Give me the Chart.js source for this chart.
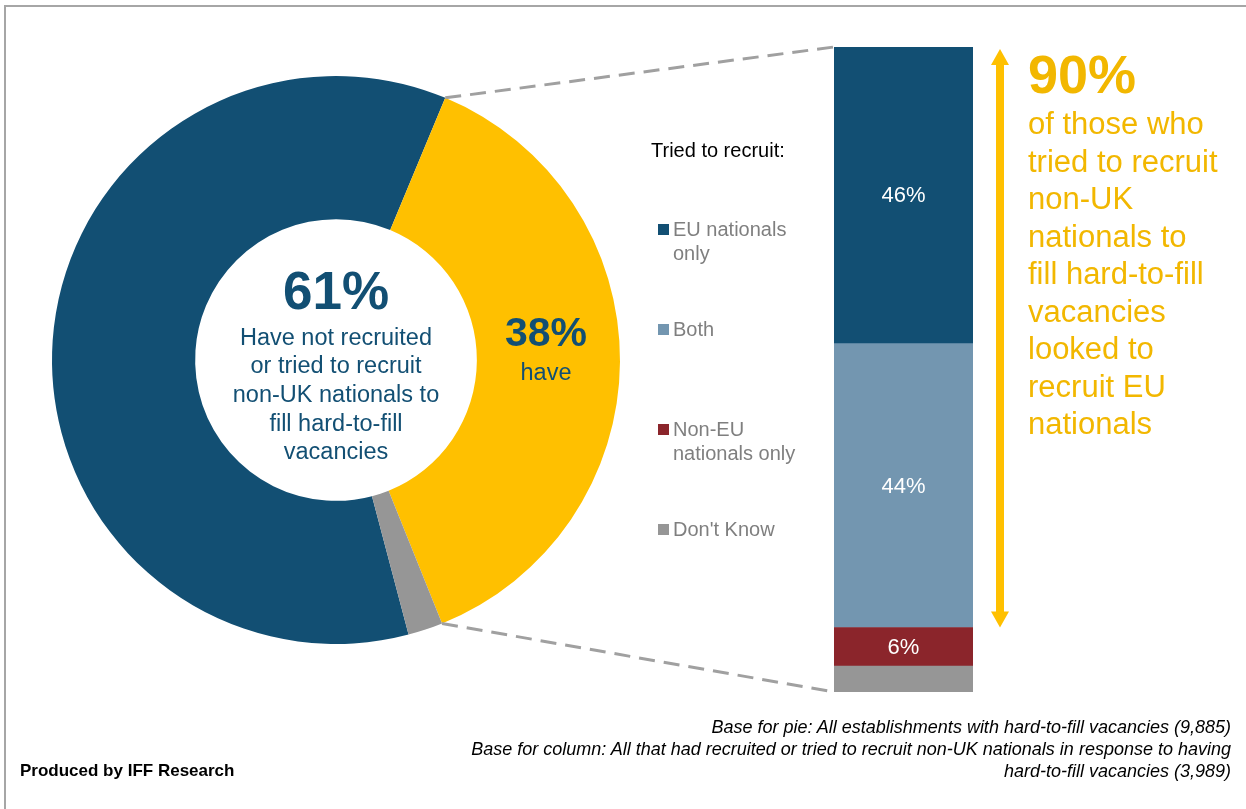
<!DOCTYPE html>
<html>
<head>
<meta charset="utf-8">
<script src="https://cdn.jsdelivr.net/npm/chart.js@4.4.1/dist/chart.umd.min.js"></script>
<style>
  body { margin: 0; background: #fff; font-family: "Liberation Sans", Arial, sans-serif; }
  #wrap { position: relative; width: 1246px; height: 809px; overflow: hidden; }
  #frame { position: absolute; left: 4px; top: 5px; width: 1260px; height: 820px; border-top: 2px solid #a6a6a6; border-left: 2px solid #a6a6a6; }
  canvas { position: absolute; left: 0; top: 0; }
  .t { position: absolute; white-space: nowrap; }
  .mid { text-align: center; color: #124f73; }
  .legend-item { position: absolute; left: 658px; color: #7f7f7f; font-size: 20px; line-height: 24px; }
  .legend-item i { position: absolute; left: 0; top: 7px; width: 11px; height: 11px; }
  .legend-item span { position: absolute; left: 15px; top: 0; white-space: nowrap; }
  .note { color: #f2b700; }
</style>
</head>
<body>
<div id="wrap">
  <div id="frame"></div>
  <canvas id="pieChart" width="1246" height="809"></canvas>
  <canvas id="columnChart" width="1246" height="809"></canvas>

  <div class="t mid" id="notPct" style="left:136px;width:400px;top:263px;font-size:53px;line-height:56px;font-weight:bold"></div>
  <div class="t mid" style="left:136px;width:400px;top:322.6px;font-size:23.5px;line-height:28.7px">Have not recruited<br>or tried to recruit<br>non-UK nationals to<br>fill hard-to-fill<br>vacancies</div>
  <div class="t mid" id="havePct" style="left:446px;width:200px;top:310px;font-size:41px;line-height:44px;font-weight:bold"></div>
  <div class="t mid" style="left:446px;width:200px;top:358px;font-size:23.5px;line-height:28px">have</div>

  <div class="t" style="left:651px;top:138px;font-size:20px;line-height:24px;color:#000">Tried to recruit:</div>
  <div id="legend"></div>

  <div class="t note" id="euPct" style="left:1028px;top:46px;font-size:54px;line-height:56px;font-weight:bold"></div>
  <div class="t note" style="left:1028px;top:105.25px;font-size:31px;line-height:37.5px">of those who<br>tried to recruit<br>non-UK<br>nationals to<br>fill hard-to-fill<br>vacancies<br>looked to<br>recruit EU<br>nationals</div>

  <div class="t" style="left:20px;top:760px;font-size:17px;line-height:22px;font-weight:bold;color:#000">Produced by IFF Research</div>
  <div class="t" style="right:15px;top:716px;font-size:18px;line-height:22px;font-style:italic;text-align:right;color:#000">Base for pie: All establishments with hard-to-fill vacancies (9,885)<br>Base for column: All that had recruited or tried to recruit non-UK nationals in response to having<br>hard-to-fill vacancies (3,989)</div>
</div>

<script>
// doughnut: all establishments with hard-to-fill vacancies
const pieLabels = ['Have not recruited or tried to recruit non-UK nationals', 'Have recruited or tried to recruit non-UK nationals', "Don't know"];
const pieValues = [61, 38, 2];
const pieColors = ['#124f73', '#ffc000', '#969696'];

// column: who they tried to recruit (stacked bottom to top)
const recruitCategory = ['Tried to recruit'];
const recruitLabels = ["Don't Know", 'Non-EU nationals only', 'Both', 'EU nationals only'];
const recruitValues = [4, 6, 44, 46];
const recruitColors = ['#969696', '#8b252b', '#7396b0', '#124f73'];
const legendLines = ["Don't Know", 'Non-EU<br>nationals only', 'Both', 'EU nationals<br>only'];

document.getElementById('notPct').textContent = pieValues[0] + '%';
document.getElementById('havePct').textContent = pieValues[1] + '%';
document.getElementById('euPct').textContent = (recruitValues[2] + recruitValues[3]) + '%';

// legend, top entry first, same order as the stack
const legendTops = [517, 417, 317, 217];
const legend = document.getElementById('legend');
recruitLabels.forEach((lab, i) => {
  const d = document.createElement('div');
  d.className = 'legend-item';
  d.style.top = legendTops[i] + 'px';
  d.innerHTML = '<i style="background:' + recruitColors[i] + '"></i><span>' + legendLines[i] + '</span>';
  legend.appendChild(d);
});

const pie = new Chart(document.getElementById('pieChart'), {
  type: 'doughnut',
  data: {
    labels: pieLabels,
    datasets: [{ data: pieValues, backgroundColor: pieColors, borderWidth: 0 }]
  },
  options: {
    responsive: false,
    animation: false,
    cutout: '49.6%',
    rotation: 165.2,
    layout: { padding: { left: 52, right: 626, top: 76, bottom: 165 } },
    plugins: { legend: { display: false }, tooltip: { enabled: false } }
  }
});

// dashed connectors, the 90% arrow and the segment labels
const overlay = {
  id: 'overlay',
  afterDraw(chart) {
    const ctx = chart.ctx;
    const bars = recruitValues.map((v, i) => chart.getDatasetMeta(i).data[0]);
    const top = bars[bars.length - 1];
    const bottom = bars[0];
    const left = top.x - top.width / 2;
    const right = top.x + top.width / 2;

    const arc = pie.getDatasetMeta(0).data[1];
    const p1 = [arc.x + Math.cos(arc.startAngle) * arc.outerRadius, arc.y + Math.sin(arc.startAngle) * arc.outerRadius];
    const p2 = [arc.x + Math.cos(arc.endAngle) * arc.outerRadius, arc.y + Math.sin(arc.endAngle) * arc.outerRadius];

    ctx.save();
    ctx.strokeStyle = '#a0a0a0';
    ctx.lineWidth = 3;
    ctx.setLineDash([16, 9]);
    ctx.beginPath();
    ctx.moveTo(p1[0], p1[1]);
    ctx.lineTo(left, top.y);
    ctx.moveTo(p2[0], p2[1]);
    ctx.lineTo(left, bottom.base);
    ctx.stroke();
    ctx.restore();

    // arrow spans EU only + Both
    const ax = right + 27;
    const y1 = top.y + 2;
    const y2 = bars[2].base;
    const head = 16, hw = 9, sw = 4;
    ctx.save();
    ctx.fillStyle = '#ffc000';
    ctx.beginPath();
    ctx.moveTo(ax, y1);
    ctx.lineTo(ax + hw, y1 + head);
    ctx.lineTo(ax + sw, y1 + head);
    ctx.lineTo(ax + sw, y2 - head);
    ctx.lineTo(ax + hw, y2 - head);
    ctx.lineTo(ax, y2);
    ctx.lineTo(ax - hw, y2 - head);
    ctx.lineTo(ax - sw, y2 - head);
    ctx.lineTo(ax - sw, y1 + head);
    ctx.lineTo(ax - hw, y1 + head);
    ctx.closePath();
    ctx.fill();
    ctx.restore();

    ctx.save();
    ctx.fillStyle = '#fff';
    ctx.font = '22px "Liberation Sans", Arial, sans-serif';
    ctx.textAlign = 'center';
    ctx.textBaseline = 'middle';
    bars.forEach((b, i) => {
      if (i === 0) return;
      ctx.fillText(recruitValues[i] + '%', b.x, (b.y + b.base) / 2 + 1);
    });
    ctx.restore();
  }
};

new Chart(document.getElementById('columnChart'), {
  type: 'bar',
  data: {
    labels: recruitCategory,
    datasets: recruitLabels.map((lab, i) => ({
      label: lab,
      data: [recruitValues[i]],
      backgroundColor: recruitColors[i],
      borderWidth: 0,
      barPercentage: 1,
      categoryPercentage: 1
    }))
  },
  options: {
    responsive: false,
    animation: false,
    layout: { padding: { left: 834, right: 273, top: 47, bottom: 117 } },
    scales: {
      x: { stacked: true, display: false },
      y: { stacked: true, display: false, min: 0, max: 100 }
    },
    plugins: { legend: { display: false }, tooltip: { enabled: false } }
  },
  plugins: [overlay]
});
</script>
</body>
</html>
